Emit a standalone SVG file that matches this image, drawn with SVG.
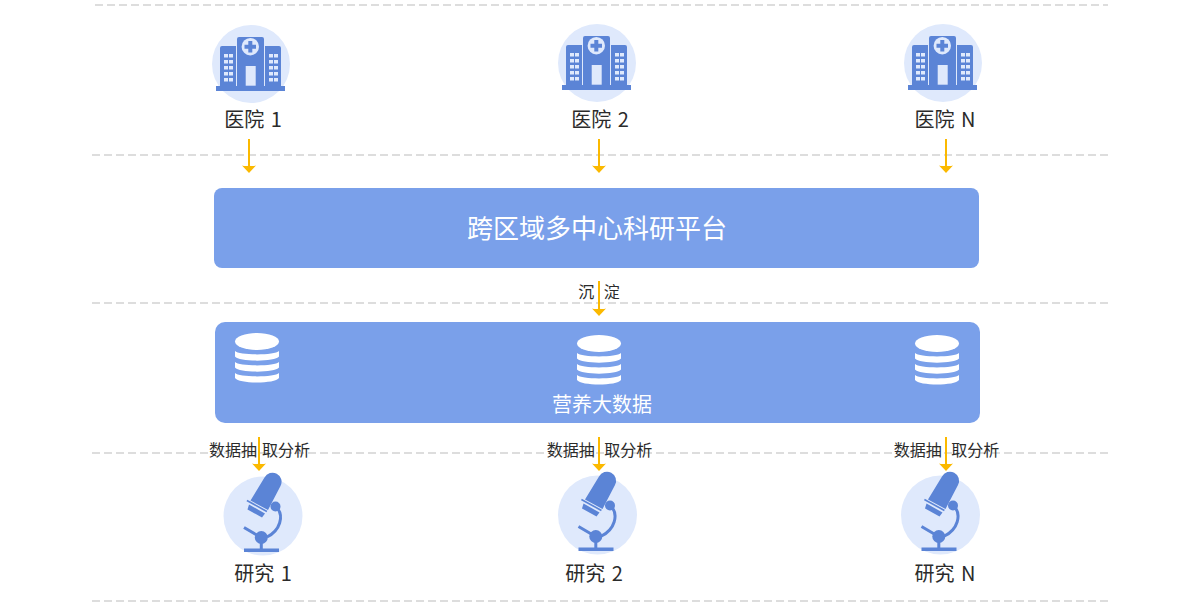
<svg xmlns="http://www.w3.org/2000/svg" width="1200" height="608" viewBox="0 0 1200 608">
<style>
text{font-family:"Noto Sans CJK SC","Noto Sans",sans-serif;font-weight:400;fill:#2b2b2b;text-anchor:middle}
.sep{stroke:#ddd;stroke-width:2;stroke-dasharray:8 4;fill:none}
.arr{stroke:#fbb900;stroke-width:2;fill:none;marker-end:url(#ah)}
.box{fill:#7aa0ea}
.lbl{font-size:20px;word-spacing:2px}
.sm{font-size:16px;word-spacing:6px}
text.wh,.wh{fill:#fff}
.halo{fill:#dfe9fc}
.ic{fill:#5b84d6}
</style>
<defs>
<marker id="ah" markerUnits="userSpaceOnUse" markerWidth="10" markerHeight="16" refX="2" refY="8" orient="auto" viewBox="0 0 10 16"><path d="M0.500 1Q1.500 5 0.500 8Q1.500 11 0.500 15L8 8Z" fill="#fbb900"/></marker>
<symbol id="hospital" viewBox="-40 -40 80 80" width="80" height="80" overflow="visible">
<circle class="halo" r="39"/>
<path class="ic" d="M-35 22H34V27H-35Z"/>
<path class="ic" d="M-31 -16Q-31 -18 -29 -18H-15V22H-31ZM-14 -25Q-14 -27 -12 -27H11Q13 -27 13 -25V22H-14ZM14 -18H28Q30 -18 30 -16V22H14Z"/>
<circle cx="-0.700" cy="-17.300" r="8.700" fill="#dfe9fc"/>
<path class="ic" d="M-2.700 -23H1.300V-19.300H5V-15.300H1.300V-11.500H-2.700V-15.300H-6.500V-19.300H-2.700Z"/>
<rect x="-5.300" y="2" width="10" height="19.700" fill="#dfe9fc"/>
<g fill="#dfe9fc"><path d="M-27-10h4v3.500h-4zM-22-10h4v3.500h-4zM-27-4h4v3.500h-4zM-22-4h4v3.500h-4zM-27 2h4v3.500h-4zM-22 2h4v3.500h-4zM-27 8h4v3.500h-4zM-22 8h4v3.500h-4zM-27 14h4v3.500h-4zM-22 14h4v3.500h-4zM18-10h4v3.500h-4zM23-10h4v3.500h-4zM18-4h4v3.500h-4zM23-4h4v3.500h-4zM18 2h4v3.500h-4zM23 2h4v3.500h-4zM18 8h4v3.500h-4zM23 8h4v3.500h-4zM18 14h4v3.500h-4zM23 14h4v3.500h-4z"/></g>
</symbol>
<symbol id="scope" viewBox="-40 -45 80 90" width="80" height="90" overflow="visible">
<circle class="halo" r="39.500"/>
<path class="ic" d="M1.500 -38.500A8.500 8.500 0 0 1 17.500 -30L5 -6L-12.500 -15.500Z"/>
<path class="ic" d="M-16.500 -14.800L-15.700 -16.200L4.300 -5.200L3.500 -3.800Z"/>
<path class="ic" d="M-14 -11.500L2 -2.500L-1 1.500L-15.500 -6.500Z"/>
<circle class="ic" cx="12.500" cy="-9.500" r="5"/>
<path d="M15 -7C20 0 18 14 4 21" fill="none" stroke="#5b84d6" stroke-width="3"/>
<path d="M-19 11.500L-2 21.500M-1.700 21V34" fill="none" stroke="#5b84d6" stroke-width="3"/>
<circle class="ic" cx="-1.700" cy="21.500" r="6.500"/>
<rect class="ic" x="-19" y="32.500" width="35" height="3.500"/>
</symbol>
<symbol id="db" viewBox="-25 -28 50 56" width="50" height="56" overflow="visible">
<ellipse class="wh" cx="0" cy="-17.500" rx="22" ry="8.500"/>
<path class="wh" d="M-22 -8C-18 -3.500 18 -3.500 22 -8V-2.500C18 3 -18 3 -22 -2.500Z"/>
<path class="wh" d="M-22 3C-18 7.500 18 7.500 22 3V8.500C18 14 -18 14 -22 8.500Z"/>
<path class="wh" d="M-22 14C-18 18.500 18 18.500 22 14V19C18 25 -18 25 -22 19Z"/>
</symbol>
</defs>
<g id="separators">
<line class="sep" x1="95" y1="5" x2="1108" y2="5"/>
<line class="sep" x1="92" y1="155" x2="1108" y2="155"/>
<line class="sep" x1="92" y1="303" x2="1108" y2="303"/>
<line class="sep" x1="92" y1="453" x2="1108" y2="453"/>
<line class="sep" x1="92" y1="601" x2="1108" y2="601"/>
</g>
<g id="hospital-1"><use href="#hospital" x="211" y="24"/><text class="lbl" x="253" y="126.500">医院 1</text></g>
<g id="hospital-2"><use href="#hospital" x="557" y="23"/><text class="lbl" x="600" y="126.500">医院 2</text></g>
<g id="hospital-n"><use href="#hospital" x="903" y="23"/><text class="lbl" x="945" y="126.500">医院 N</text></g>
<g id="platform"><rect class="box" x="214" y="188" width="765" height="80" rx="8"/><text class="wh" x="597" y="238" font-size="26">跨区域多中心科研平台</text></g>
<g id="bigdata"><rect class="box" x="215" y="322" width="765" height="101" rx="10"/>
<use href="#db" x="232" y="331"/><use href="#db" x="574" y="333"/><use href="#db" x="912" y="333"/>
<text class="wh" x="602" y="412" font-size="20">营养大数据</text></g>
<g id="study-1"><use href="#scope" x="223" y="471"/><text class="lbl" x="263" y="580.500">研究 1</text></g>
<g id="study-2"><use href="#scope" x="557.500" y="470"/><text class="lbl" x="594" y="580.500">研究 2</text></g>
<g id="study-n"><use href="#scope" x="900.500" y="470"/><text class="lbl" x="945" y="580.500">研究 N</text></g>
<g id="connectors">
<path class="arr" d="M249 139V167"/><path class="arr" d="M599 139V167"/><path class="arr" d="M946 139V167"/>
<path class="arr" d="M599 281V310"/>
<path class="arr" d="M259 437V465"/><path class="arr" d="M599 437V465"/><path class="arr" d="M946 437V465"/>
</g>
<g id="edge-labels">
<text class="sm" x="599" y="298">沉 淀</text>
<text class="sm" x="259.500" y="456" style="word-spacing:1.500px">数据抽 取分析</text>
<text class="sm" x="599.500" y="456">数据抽 取分析</text>
<text class="sm" x="946.500" y="456">数据抽 取分析</text>
</g>
</svg>
